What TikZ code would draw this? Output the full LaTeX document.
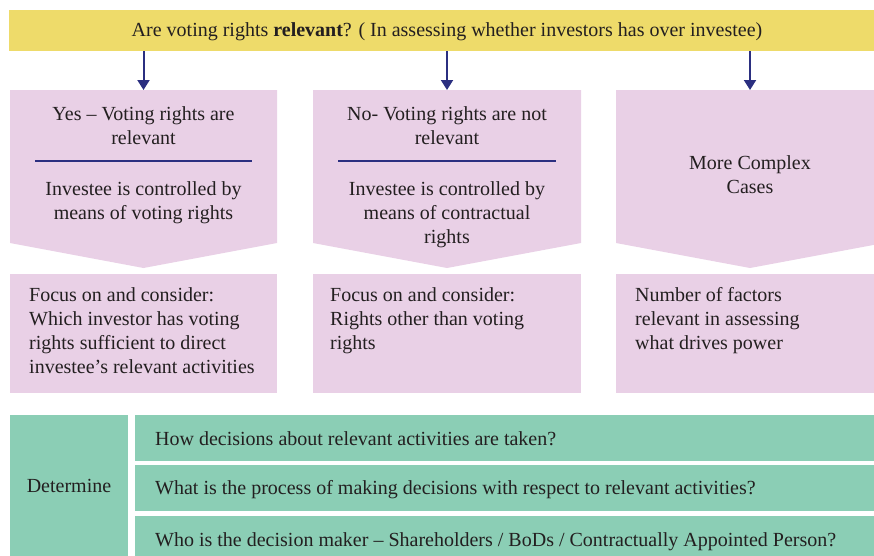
\documentclass[tikz,border=0pt]{standalone}
\usepackage{fontspec}
\setmainfont{Liberation Serif}
\usetikzlibrary{arrows.meta}
\definecolor{yellowbar}{HTML}{EEDB6A}
\definecolor{pinkbox}{HTML}{E9D0E6}
\definecolor{greenbox}{HTML}{8BCEB5}
\definecolor{navy}{HTML}{2B2F80}
\definecolor{txt}{HTML}{231F20}
\begin{document}
\begin{tikzpicture}[x=1pt,y=-1pt,
  every node/.style={text=txt, font=\fontsize{20}{24}\selectfont, inner sep=0pt},
  ctr/.style={anchor=base},
  lft/.style={anchor=base west},
  arr/.style={draw=navy, line width=2pt, -{Triangle[length=10pt,width=12pt]}},
  rule/.style={draw=navy, line width=2.5pt},
  barshape/.style={fill=yellowbar},
  pinkshape/.style={fill=pinkbox},
  greenshape/.style={fill=greenbox}]
\useasboundingbox (0,0) rectangle (874,555);
\clip (0,0) rectangle (874,555);

% top bar
\path[barshape] (9,10) rectangle (884,51);
\coordinate (topbar) at (447,51);
\node[ctr] (toptext) at (447,36) {Are voting rights \textbf{relevant}? ( In assessing whether investors has over investee)};

% upper pentagon boxes
\path[pinkshape] (10,90) -- (277,90) -- (277,243) -- (143.5,268) -- (10,243) -- cycle;
\path[pinkshape] (313,90) -- (581,90) -- (581,243) -- (447,268) -- (313,243) -- cycle;
\path[pinkshape] (616,90) -- (884,90) -- (884,243) -- (750,268) -- (616,243) -- cycle;
\coordinate (b1top) at (143.5,90);
\coordinate (b2top) at (447,90);
\coordinate (b3top) at (750,90);

% lower boxes
\path[pinkshape] (10,274) rectangle (277,393);
\path[pinkshape] (313,274) rectangle (581,393);
\path[pinkshape] (616,274) rectangle (884,393);

% arrows
\draw[arr] (topbar -| b1top) -- (b1top);
\draw[arr] (topbar -| b2top) -- (b2top);
\draw[arr] (topbar -| b3top) -- (b3top);

% box 1 text
\node[ctr] (y1) at (143.5,120.5) {Yes -- Voting rights are};
\node[ctr] (y2) at (143.5,144.5) {relevant};
\coordinate (r1a) at (35,161);
\coordinate (r1b) at (252,161);
\draw[rule] (r1a) -- (r1b);
\node[ctr] (y3) at (143.5,195) {Investee is controlled by};
\node[ctr] (y4) at (143.5,219) {means of voting rights};

% box 2 text
\node[ctr] (n1) at (447,120.5) {No- Voting rights are not};
\node[ctr] (n2) at (447,144.5) {relevant};
\coordinate (r2a) at (338,161);
\coordinate (r2b) at (556,161);
\draw[rule] (r2a) -- (r2b);
\node[ctr] (n3) at (447,195) {Investee is controlled by};
\node[ctr] (n4) at (447,219) {means of contractual};
\node[ctr] (n5) at (447,243) {rights};

% box 3 text
\node[ctr] (m1) at (750,169) {More Complex};
\node[ctr] (m2) at (750,193) {Cases};

% lower texts
\node[lft] (f1) at (29,301) {Focus on and consider:};
\node[lft] (f2) at (29,325) {Which investor has voting};
\node[lft] (f3) at (29,349) {rights sufficient to direct};
\node[lft] (f4) at (29,373) {investee’s relevant activities};

\node[lft] (g1) at (330,301) {Focus on and consider:};
\node[lft] (g2) at (330,325) {Rights other than voting};
\node[lft] (g3) at (330,349) {rights};

\node[lft] (h1) at (635,301) {Number of factors};
\node[lft] (h2) at (635,325) {relevant in assessing};
\node[lft] (h3) at (635,349) {what drives power};

% bottom green section
\path[greenshape] (10,415) rectangle (128,565);
\path[greenshape] (135,415) rectangle (884,461);
\path[greenshape] (135,465) rectangle (884,511);
\path[greenshape] (135,516) rectangle (884,565);
\node[ctr] (det) at (69,492) {Determine};
\node[lft] (q1) at (155,445) {How decisions about relevant activities are taken?};
\node[lft] (q2) at (155,494) {What is the process of making decisions with respect to relevant activities?};
\node[lft] (q3) at (155,546) {Who is the decision maker -- Shareholders / BoDs / Contractually Appointed Person?};
\end{tikzpicture}
\end{document}
